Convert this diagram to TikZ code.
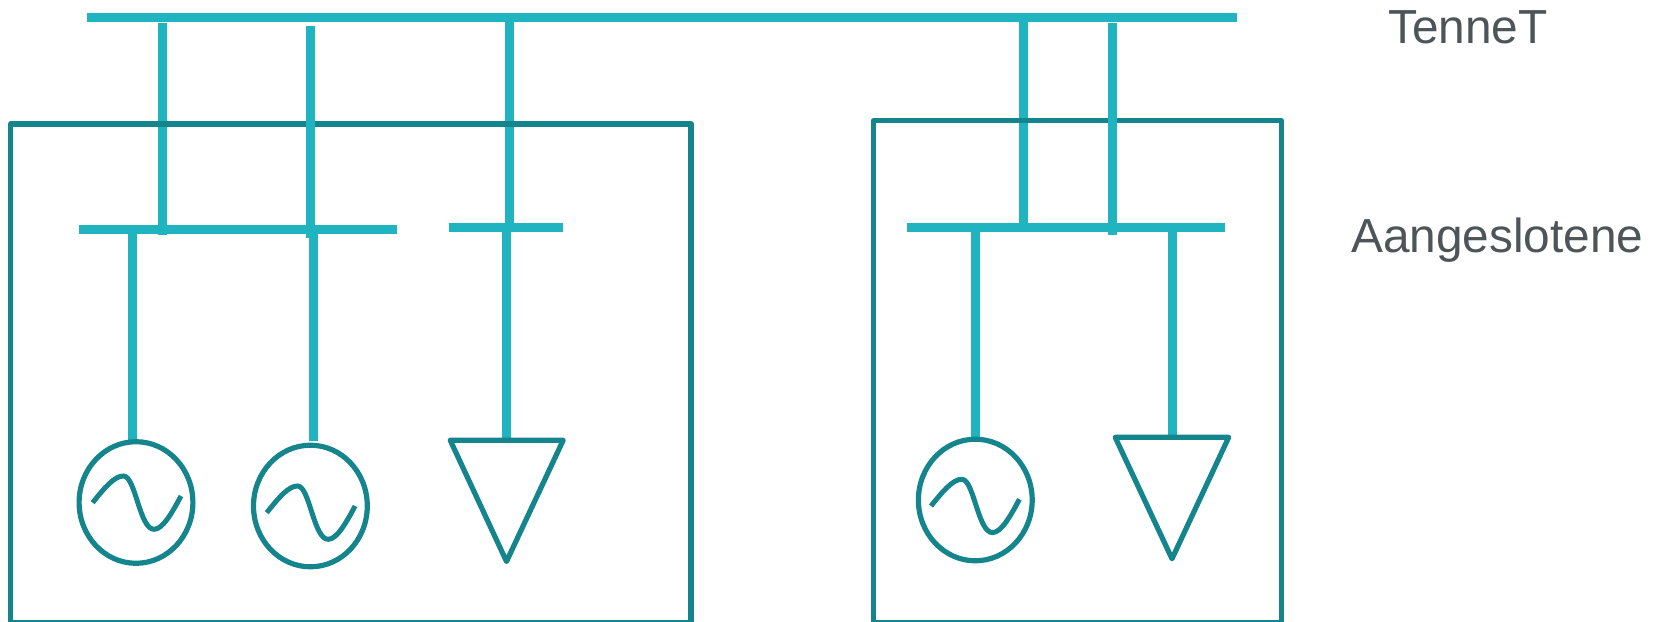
\documentclass[tikz,border=0pt]{standalone}
\usepackage{fontspec}
\setmainfont{Liberation Sans}
\usetikzlibrary{shapes.geometric}
\definecolor{lightline}{HTML}{20B4C0}
\definecolor{darkline}{HTML}{14858C}
\definecolor{labelgrey}{HTML}{4D5559}
\tikzset{
  busbar/.style={draw=lightline,line width=9pt},
  feeder/.style={draw=lightline,line width=8.8pt},
  plant/.style={draw=darkline,line width=5.2pt,line join=round},
  generator/.style={ellipse,draw=darkline,line width=5.2pt,inner sep=0pt,minimum width=113.8pt,minimum height=121.6pt},
  wave/.style={draw=darkline,line width=5pt},
  labeltext/.style={anchor=base west,inner sep=0pt,text=labelgrey,font=\fontsize{47.8}{48}\selectfont},
  pics/sinewave/.style={code={
    \draw[wave] (0,0) .. controls (12,-15) and (22,-27) .. (31,-26.7)
      .. controls (43,-26.3) and (47,27) .. (61.6,26.6)
      .. controls (70,26.4) and (79,11) .. (88.4,-6.7);
  }}
}
\begin{document}
\begin{tikzpicture}[x=1pt,y=-1pt]
\useasboundingbox (0,0) rectangle (1654,621);
\clip (0,0) rectangle (1654,621);
% named points: top bus
\coordinate (tl) at (87,17.5);
\coordinate (tr) at (1237,17.5);
% bus bars
\coordinate (b1l) at (79,229.5);
\coordinate (b1r) at (397,229.5);
\coordinate (b2l) at (449,227.5);
\coordinate (b2r) at (563,227.5);
\coordinate (b3l) at (907,227.5);
\coordinate (b3r) at (1225,227.5);
% feeder ends
\coordinate (v1t) at (162.5,23);
\coordinate (v1b) at (162.5,235);
\coordinate (v2t) at (310.5,26);
\coordinate (v2b) at (310.5,238);
\coordinate (v3t) at (509.5,20);
\coordinate (v3b) at (509.5,225);
\coordinate (v4t) at (1023.5,20);
\coordinate (v4b) at (1023.5,225);
\coordinate (v5t) at (1112.5,23);
\coordinate (v5b) at (1112.5,235);
\coordinate (d1t) at (132.5,232);
\coordinate (d1b) at (132.5,441);
\coordinate (d2t) at (313.5,232);
\coordinate (d2b) at (313.5,441);
\coordinate (d3t) at (506.5,230);
\coordinate (d3b) at (506.5,440);
\coordinate (d4t) at (975.5,230);
\coordinate (d4b) at (975.5,438);
\coordinate (d5t) at (1172.5,230);
\coordinate (d5b) at (1172.5,437);
% lower feeders
\draw[feeder] (v1t) -- (v1b);
\draw[feeder] (v3t) -- (v3b);
\draw[feeder] (v4t) -- (v4b);
\draw[feeder] (d1t) -- (d1b);
\draw[feeder] (d2t) -- (d2b);
\draw[feeder] (d3t) -- (d3b);
\draw[feeder] (d4t) -- (d4b);
\draw[feeder] (d5t) -- (d5b);
% plants
\draw[plant] (10.5,622.6) -- (10.5,124) -- (691,124) -- (691,622.6) -- cycle;
\draw[plant] (873.3,622.6) -- (873.3,120.8) -- (1281.5,120.8) -- (1281.5,622.6) -- cycle;
% feeders passing over plant edge
\draw[feeder] (v2t) -- (v2b);
\draw[feeder] (v5t) -- (v5b);
% buses
\draw[busbar] (tl) -- (tr);
\draw[busbar] (b1l) -- (b1r);
\draw[busbar] (b2l) -- (b2r);
\draw[busbar] (b3l) -- (b3r);
\draw[feeder] (v1t |- b1l) -- (v1b);
\draw[feeder] (v2t |- b1l) -- (v2b);
\draw[feeder] (v5t |- b3l) -- (v5b);
% generators
\node[generator] (g1) at (136,502.5) {};
\node[generator] (g2) at (310.4,506) {};
\node[generator] (g3) at (975.3,500) {};
\pic at (92.6,502.7) {sinewave};
\pic at (266.7,512.7) {sinewave};
\pic at (931,506) {sinewave};
% loads
\draw[plant] (450.2,440.2) -- (563.2,440.2) -- (506.5,561.5) -- cycle;
\draw[plant] (1115.2,437.3) -- (1228.7,437.3) -- (1172,558.8) -- cycle;
% labels
\node[labeltext] (tennet) at (1388,43) {TenneT};
\node[labeltext] (aang) at (1351,252) {Aangeslotene};
\end{tikzpicture}
\end{document}
